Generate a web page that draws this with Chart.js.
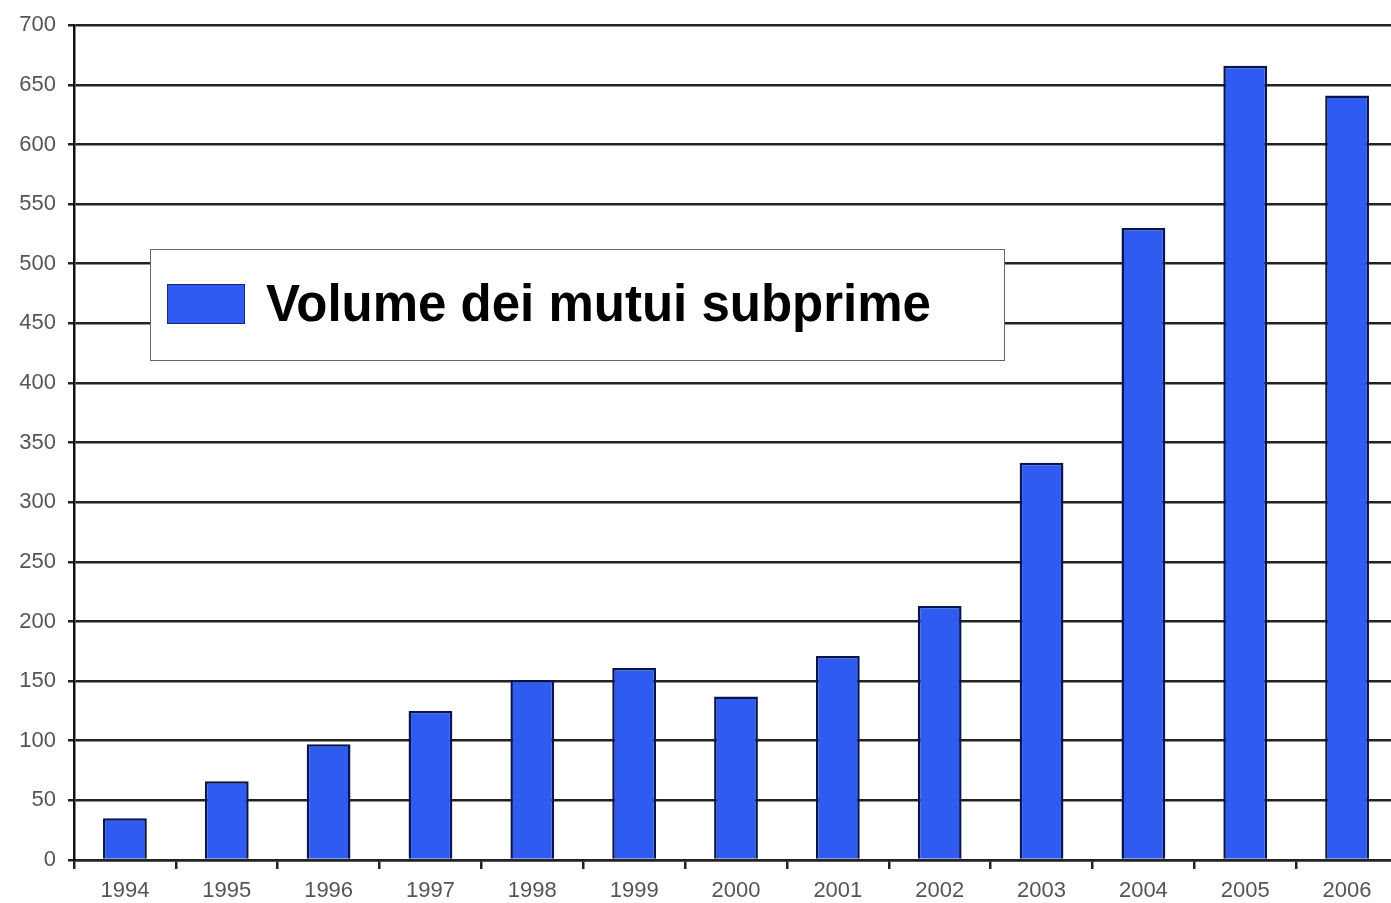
<!DOCTYPE html>
<html>
<head>
<meta charset="utf-8">
<script src="https://cdn.jsdelivr.net/npm/chart.js@4.4.1/dist/chart.umd.min.js"></script>
<style>
  html, body { margin: 0; padding: 0; background: #ffffff; overflow: hidden; }
  #wrap { position: relative; width: 1400px; height: 903px; }
  #legend {
    position: absolute; left: 150px; top: 249px; width: 853px; height: 110px;
    border: 1.5px solid #666; background: #fff; box-sizing: content-box;
  }
  #legend .sw {
    position: absolute; left: 16px; top: 34px; width: 76px; height: 38px;
    background: #2F5BF0; border: 1.5px solid #1a2870;
  }
  #legend .tx {
    position: absolute; left: 115px; top: 0; height: 110px; line-height: 108px;
    font-family: "Liberation Sans", Arial, sans-serif; font-weight: bold; font-size: 51px; color: #000;
    white-space: nowrap;
  }
</style>
</head>
<body>
<div id="wrap">
  <canvas id="c" width="1400" height="903"></canvas>
  <div id="legend"><div class="sw"></div><div class="tx" id="legendText"></div></div>
</div>
<script>
const categories = ["1994","1995","1996","1997","1998","1999","2000","2001","2002","2003","2004","2005","2006"];
const volumes = [35, 66, 97, 125, 151, 161, 137, 171, 213, 333, 530, 666, 641];
const seriesLabel = "Volume dei mutui subprime";
const yMin = 0, yMax = 700, yStep = 50;

document.getElementById('legendText').textContent = seriesLabel;

const tickFont = { family: "'Liberation Sans', Arial, sans-serif", size: 22 };

new Chart(document.getElementById('c'), {
  type: 'bar',
  data: {
    labels: categories,
    datasets: [{
      label: seriesLabel,
      data: volumes,
      backgroundColor: '#2F5BF0',
      borderColor: '#081650',
      borderWidth: 2.5,
      borderSkipped: 'bottom',
      barPercentage: 0.43,
      categoryPercentage: 1.0
    }]
  },
  options: {
    responsive: false,
    animation: false,
    layout: { padding: { top: 20, right: 2, left: 0, bottom: 0 } },
    plugins: { legend: { display: false }, tooltip: { enabled: false } },
    scales: {
      x: {
        offset: true,
        grid: { offset: true, drawOnChartArea: false, drawTicks: true, tickLength: 9, color: '#222', lineWidth: 2.5 },
        border: { display: true, color: '#222', width: 2.5 },
        ticks: { color: '#555', font: tickFont, padding: 9, maxRotation: 0 },
        afterFit: (s) => { s.height = 43; }
      },
      y: {
        min: yMin, max: yMax,
        ticks: { stepSize: yStep, color: '#555', font: tickFont, padding: 12 },
        grid: { color: '#222', lineWidth: 2.5, drawTicks: true, tickLength: 6 },
        border: { display: true, color: '#111', width: 2.5 },
        afterFit: (s) => { s.width = 74; }
      }
    }
  }
});
</script>
</body>
</html>
